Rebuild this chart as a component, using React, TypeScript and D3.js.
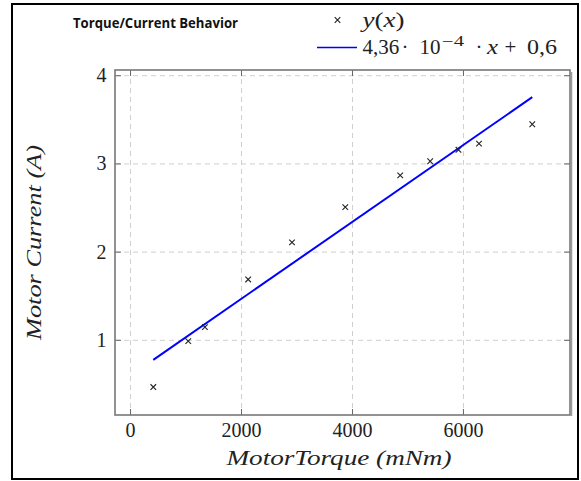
import React from "react";
import * as d3 from "d3";

const torque = [410, 1040, 1340, 2120, 2910, 3870, 4860, 5400, 5910, 6280, 7240];
const current = [0.47, 0.99, 1.15, 1.69, 2.11, 2.51, 2.87, 3.03, 3.16, 3.23, 3.45];
const fitSlope = 4.36e-4;
const fitIntercept = 0.6;
const xTicks = [0, 2000, 4000, 6000];
const yTicks = [1, 2, 3, 4];
const xDomain = [-280, 7920];
const yDomain = [0.153, 4.065];

const W = 581;
const H = 481;
const L = 115, R = 570, T = 70, B = 415;

export default function App() {
  const x = d3.scaleLinear().domain(xDomain).range([L, R]);
  const y = d3.scaleLinear().domain(yDomain).range([B, T]);
  const fitX = [d3.min(torque) as number, d3.max(torque) as number];
  const line = d3
    .line<number>()
    .x((d) => x(d))
    .y((d) => y(fitSlope * d + fitIntercept));
  const serif = { fontFamily: "'Liberation Serif', serif" };
  const cross = (cx: number, cy: number, s: number) =>
    `M${cx - s},${cy - s}L${cx + s},${cy + s}M${cx - s},${cy + s}L${cx + s},${cy - s}`;
  const tick = 6;
  const sg = "spacingAndGlyphs";
  return (
    <svg
      width={W}
      height={H}
      style={{ position: "fixed", left: 0, top: 0, background: "#fff" }}
    >
      <rect x={12} y={4} width={566} height={475} fill="#fff" stroke="#000" strokeWidth={2} />
      <text
        x={73}
        y={28}
        style={{ fontFamily: "'Open Sans', 'Liberation Sans', sans-serif" }}
        fontWeight="bold"
        fontSize={13.5}
        textLength={165}
        lengthAdjust={sg}
        fill="#111"
      >
        Torque/Current Behavior
      </text>
      {/* legend */}
      <path d={cross(337.5, 20, 2.8)} stroke="#222" strokeWidth={1.1} fill="none" />
      <text x={362.5} y={27} style={serif} fontSize={21} fill="#222" textLength={42} lengthAdjust={sg}>
        <tspan fontStyle="italic">y</tspan>(<tspan fontStyle="italic">x</tspan>)
      </text>
      <line x1={317} x2={357} y1={47.5} y2={47.5} stroke="#0000ff" strokeWidth={1.6} />
      <g style={serif} fontSize={21} fill="#222">
        <text x={362.5} y={54}>4,36</text>
        <text x={405} y={54} textAnchor="middle">·</text>
        <text x={419.5} y={54} textLength={21} lengthAdjust={sg}>10</text>
        <text x={442} y={46} fontSize={14} textLength={22} lengthAdjust={sg}>−4</text>
        <text x={479} y={54} textAnchor="middle">·</text>
        <text x={487} y={54} fontStyle="italic" textLength={11} lengthAdjust={sg}>x</text>
        <text x={510.5} y={54} textAnchor="middle">+</text>
        <text x={527} y={54} textLength={30} lengthAdjust={sg}>0,6</text>
      </g>
      {/* grid */}
      {xTicks.map((t) => (
        <line key={"gx" + t} x1={x(t)} x2={x(t)} y1={T} y2={B} stroke="#cfcfcf" strokeDasharray="5 4" />
      ))}
      {yTicks.map((t) => (
        <line key={"gy" + t} x1={L} x2={R} y1={y(t)} y2={y(t)} stroke="#cfcfcf" strokeDasharray="5 4" />
      ))}
      {/* ticks */}
      {xTicks.map((t) => (
        <g key={"tx" + t} stroke="#666" strokeWidth={1}>
          <line x1={x(t)} x2={x(t)} y1={B} y2={B - tick} />
          <line x1={x(t)} x2={x(t)} y1={T} y2={T + tick} />
        </g>
      ))}
      {yTicks.map((t) => (
        <g key={"ty" + t} stroke="#666" strokeWidth={1}>
          <line x1={L} x2={L + tick} y1={y(t)} y2={y(t)} />
          <line x1={R} x2={R - tick} y1={y(t)} y2={y(t)} />
        </g>
      ))}
      {/* frame */}
      <rect x={L} y={T} width={R - L} height={B - T} fill="none" stroke="#777" strokeWidth={1.6} />
      <line x1={R + 1.5} x2={R + 1.5} y1={T + 2} y2={B + 1} stroke="#999" strokeWidth={1.5} />
      {/* tick labels */}
      {xTicks.map((t) => (
        <text key={"lx" + t} x={x(t)} y={437} textAnchor="middle" style={serif} fontSize={20} fill="#222">
          {t}
        </text>
      ))}
      {yTicks.map((t) => (
        <text key={"ly" + t} x={106.5} y={y(t) + 6.5} textAnchor="end" style={serif} fontSize={20} fill="#222">
          {t}
        </text>
      ))}
      {/* fit line */}
      <path d={line(fitX) || ""} stroke="#0000ff" strokeWidth={2} fill="none" />
      {/* data */}
      {torque.map((t, i) => (
        <path key={"p" + i} d={cross(x(t), y(current[i]), 2.8)} stroke="#222" strokeWidth={1.1} fill="none" />
      ))}
      {/* axis labels */}
      <text
        x={339}
        y={465}
        textAnchor="middle"
        style={serif}
        fontStyle="italic"
        fontSize={20}
        fill="#222"
        textLength={225}
        lengthAdjust={sg}
      >
        MotorTorque (mNm)
      </text>
      <text
        transform="translate(41,242.5) rotate(-90)"
        textAnchor="middle"
        style={serif}
        fontStyle="italic"
        fontSize={20}
        fill="#222"
        textLength={195}
        lengthAdjust={sg}
      >
        Motor Current (A)
      </text>
    </svg>
  );
}
